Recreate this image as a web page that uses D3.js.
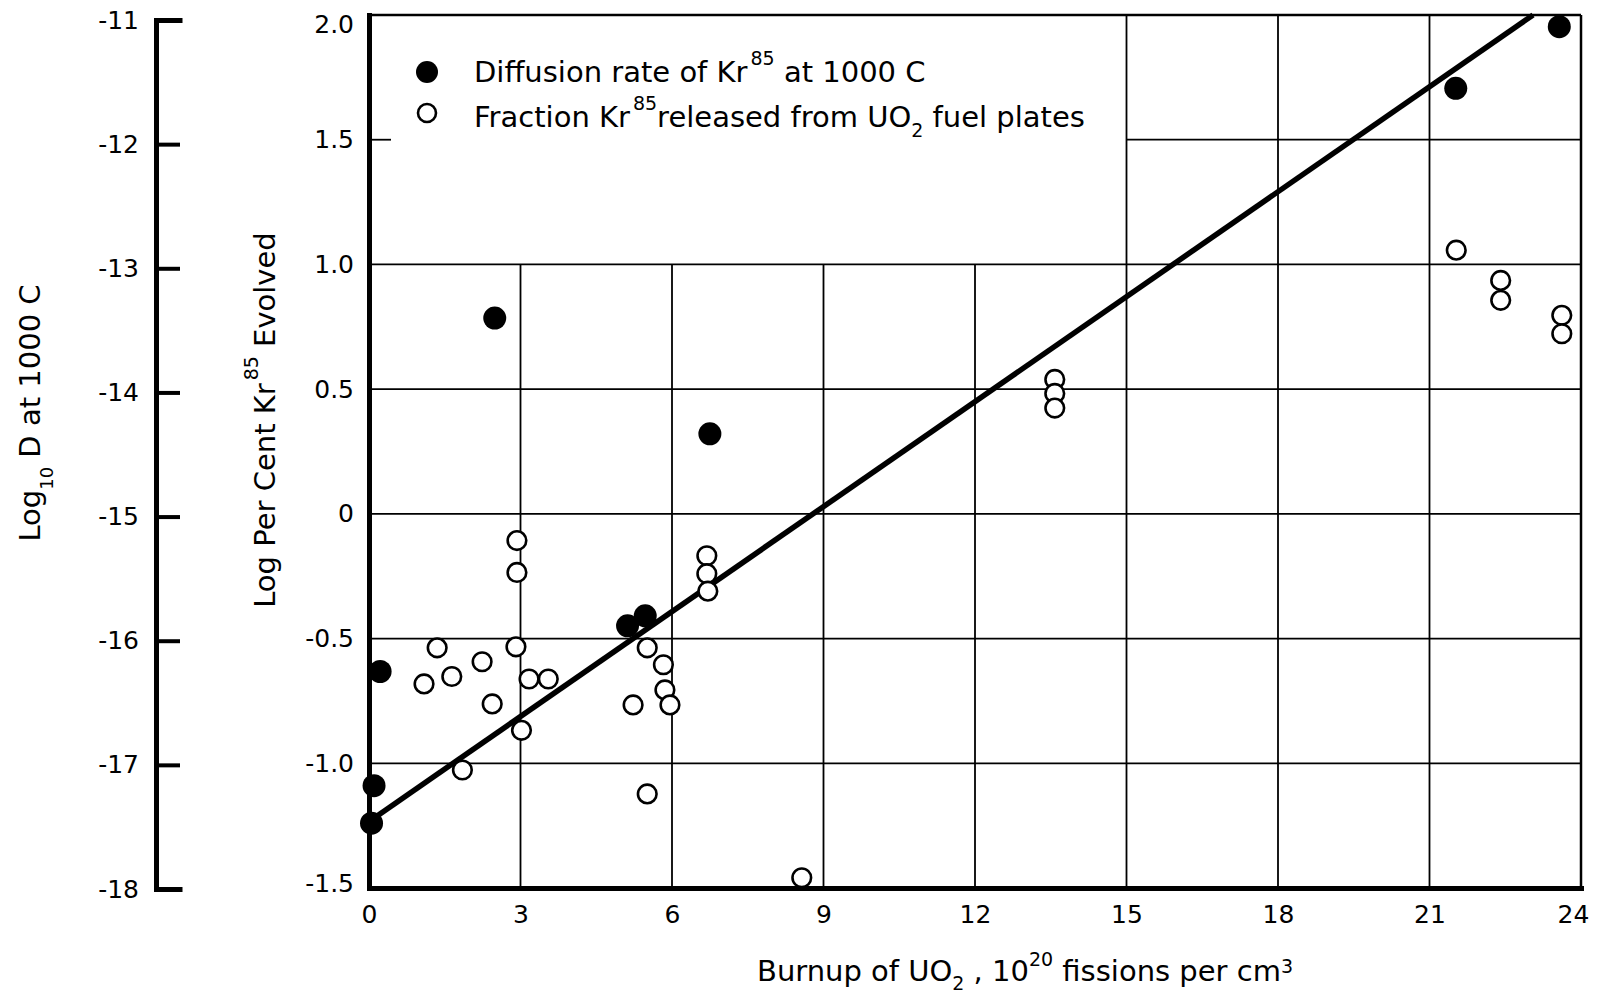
<!DOCTYPE html>
<html>
<head>
<meta charset="utf-8">
<script src="https://cdn.jsdelivr.net/npm/d3@7/dist/d3.min.js"></script>
<style>
  html, body { margin: 0; padding: 0; background: #fff; }
  svg { display: block; font-family: "DejaVu Sans", sans-serif; }
</style>
</head>
<body>
<svg id="chart" width="1602" height="995"></svg>
<script>
// Burnup of UO2 (10^20 fissions per cm^3) vs log per cent Kr-85 evolved
const xTicks = [0, 3, 6, 9, 12, 15, 18, 21, 24];
const xTickLabels = ["0", "3", "6", "9", "12", "15", "18", "21", "24"];
const yTicks = [-1.5, -1.0, -0.5, 0, 0.5, 1.0, 1.5, 2.0];
const yTickLabels = ["-1.5", "-1.0", "-0.5", "0", "0.5", "1.0", "1.5", "2.0"];
const dTicks = [-18, -17, -16, -15, -14, -13, -12, -11];
const dTickLabels = ["-18", "-17", "-16", "-15", "-14", "-13", "-12", "-11"];

// Diffusion rate of Kr-85 at 1000 C (filled markers)
const diffusionBurnup = [2.49, 6.75, 0.22, 0.10, 0.05, 5.12, 5.47, 21.52, 23.57];
const diffusionLog    = [0.785, 0.321, -0.632, -1.09, -1.24, -0.449, -0.409, 1.706, 1.953];

// Fraction Kr-85 released from UO2 fuel plates (open markers)
const releaseBurnup = [21.53, 22.41, 22.41, 23.62, 23.62, 13.58, 13.58, 13.58,
                       2.93, 2.93, 6.69, 6.69, 6.71, 2.91, 1.35, 2.24, 1.64, 1.09,
                       3.17, 3.55, 2.44, 3.02, 1.85, 5.51, 5.83, 5.86, 5.96, 5.23,
                       5.51, 8.57];
const releaseLog    = [1.057, 0.936, 0.856, 0.796, 0.722, 0.539, 0.483, 0.424,
                       -0.107, -0.235, -0.168, -0.240, -0.310, -0.533, -0.537, -0.593, -0.652, -0.682,
                       -0.662, -0.662, -0.762, -0.868, -1.027, -0.537, -0.605, -0.706, -0.766, -0.766,
                       -1.123, -1.459];

// Straight-line fit through the diffusion data
const fitBurnup = [0.06, 23.05];
const fitLog    = [-1.225, 2.0];

const FONT = "DejaVu Sans, sans-serif";
const svg = d3.select("#chart");
svg.append("rect").attr("width", 1602).attr("height", 995).attr("fill", "#fff");

const x = d3.scaleLinear().domain([0, 24]).range([369, 1581]);
const y = d3.scaleLinear().domain([-1.5, 2.0]).range([888, 15]);
const dScale = d3.scaleLinear().domain([-18, -11]).range([889, 20]);

// The legend sits in a clear panel: left of burnup 15, above log 1.0
const legendEdgeX = 15, legendEdgeY = 1.0;

// --- grid ---
const grid = svg.append("g").attr("stroke", "#000").attr("stroke-width", 1.8);
grid.selectAll(".vgrid")
  .data(xTicks.filter(v => v > 0 && v < 24))
  .join("line")
  .attr("x1", d => x(d)).attr("x2", d => x(d))
  .attr("y1", y(-1.5))
  .attr("y2", d => d < legendEdgeX ? y(legendEdgeY) : y(2.0));
grid.selectAll(".hgrid")
  .data(yTicks.filter(v => v > -1.5 && v < 2.0))
  .join("line")
  .attr("y1", d => y(d)).attr("y2", d => y(d))
  .attr("x1", d => d > legendEdgeY ? x(legendEdgeX) : x(0))
  .attr("x2", x(24));
// short stubs on the left axis inside the legend panel
grid.selectAll(".stub")
  .data(yTicks.filter(v => v > legendEdgeY && v < 2.0))
  .join("line")
  .attr("y1", d => y(d)).attr("y2", d => y(d))
  .attr("x1", x(0)).attr("x2", x(0) + 22);

// frame: thin top and right edges
svg.append("line").attr("x1", x(0)).attr("x2", x(24)).attr("y1", y(2.0)).attr("y2", y(2.0))
  .attr("stroke", "#000").attr("stroke-width", 2.5);
svg.append("line").attr("x1", x(24)).attr("x2", x(24)).attr("y1", y(2.0)).attr("y2", y(-1.5))
  .attr("stroke", "#000").attr("stroke-width", 2.5);

// --- axes ---
const yAxis = svg.append("g").attr("transform", `translate(${x(0)},0)`)
  .call(d3.axisLeft(y).tickValues(yTicks).tickFormat((v, i) => yTickLabels[i])
    .tickSize(0).tickPadding(15));
yAxis.selectAll("text").attr("dy", v => v === 2.0 ? "0.68em" : v === -1.5 ? "0.12em" : "0.32em");

const xAxis = svg.append("g").attr("transform", `translate(0,${y(-1.5)})`)
  .call(d3.axisBottom(x).tickValues(xTicks).tickFormat((v, i) => xTickLabels[i])
    .tickSize(0).tickPadding(17));
xAxis.selectAll("text").attr("dx", v => v === 24 ? -8 : 0);

const dAxis = svg.append("g").attr("transform", "translate(156,0)")
  .call(d3.axisLeft(dScale).tickValues(dTicks).tickFormat((v, i) => dTickLabels[i])
    .tickSizeInner(-24).tickSizeOuter(-24).tickPadding(17));
dAxis.selectAll(".tick line").attr("stroke-width", 4);

[yAxis, xAxis, dAxis].forEach(g => {
  g.attr("font-size", 25).attr("font-family", FONT);
  g.select(".domain").attr("stroke-width", 5).attr("stroke-linecap", "square");
  g.selectAll("text").attr("fill", "#000").attr("font-size", 25);
});

// --- fit line ---
const line = d3.line().x(d => x(d[0])).y(d => y(d[1]));
svg.append("path")
  .datum(fitBurnup.map((b, i) => [b, fitLog[i]]))
  .attr("d", line)
  .attr("fill", "none").attr("stroke", "#000").attr("stroke-width", 5.5);

// --- points ---
svg.append("g").selectAll("circle")
  .data(releaseBurnup.map((b, i) => [b, releaseLog[i]]))
  .join("circle")
  .attr("cx", d => x(d[0])).attr("cy", d => y(d[1])).attr("r", 9.3)
  .attr("fill", "#fff").attr("stroke", "#000").attr("stroke-width", 2.6);

svg.append("g").selectAll("circle")
  .data(diffusionBurnup.map((b, i) => [b, diffusionLog[i]]))
  .join("circle")
  .attr("cx", d => x(d[0])).attr("cy", d => y(d[1])).attr("r", 11.5)
  .attr("fill", "#000");

// --- text with super/subscripts ---
function rich(textSel, parts) {
  let cur = 0;
  textSel.attr("font-family", FONT).attr("fill", "#000");
  parts.forEach(p => {
    const shift = p.shift || 0;
    const t = textSel.append("tspan").text(p.t).attr("dy", shift - cur);
    if (p.size) t.attr("font-size", p.size);
    if (p.dx) t.attr("dx", p.dx);
    cur = shift;
  });
  return textSel;
}

// legend
const legend = svg.append("g");
legend.append("circle").attr("cx", 427).attr("cy", 72).attr("r", 11).attr("fill", "#000");
legend.append("circle").attr("cx", 427).attr("cy", 113).attr("r", 9)
  .attr("fill", "#fff").attr("stroke", "#000").attr("stroke-width", 2.6);
rich(legend.append("text").attr("x", 474).attr("y", 82).attr("font-size", 29), [
  { t: "Diffusion rate of Kr" },
  { t: "85", size: 19, shift: -17, dx: 3 },
  { t: " at 1000 C" }
]);
rich(legend.append("text").attr("x", 474).attr("y", 127).attr("font-size", 29), [
  { t: "Fraction Kr" },
  { t: "85", size: 19, shift: -17, dx: 3 },
  { t: "released from UO" },
  { t: "2", size: 19, shift: 10 },
  { t: " fuel plates" }
]);

// x title
rich(svg.append("text").attr("x", 1025).attr("y", 981).attr("text-anchor", "middle")
  .attr("font-size", 29), [
  { t: "Burnup of UO" },
  { t: "2", size: 19, shift: 9 },
  { t: " , 10" },
  { t: "20", size: 19, shift: -15 },
  { t: " fissions per cm" },
  { t: "3", size: 19, shift: -8 }
]);

// right-hand y title
rich(svg.append("text").attr("transform", "translate(275,420) rotate(-90)")
  .attr("text-anchor", "middle").attr("font-size", 29), [
  { t: "Log Per Cent Kr" },
  { t: "85", size: 19, shift: -17, dx: 3 },
  { t: " Evolved" }
]);

// left-hand y title
rich(svg.append("text").attr("transform", "translate(40,413) rotate(-90)")
  .attr("text-anchor", "middle").attr("font-size", 29), [
  { t: "Log" },
  { t: "10", size: 18, shift: 13 },
  { t: " D at 1000 C" }
]);
</script>
</body>
</html>
